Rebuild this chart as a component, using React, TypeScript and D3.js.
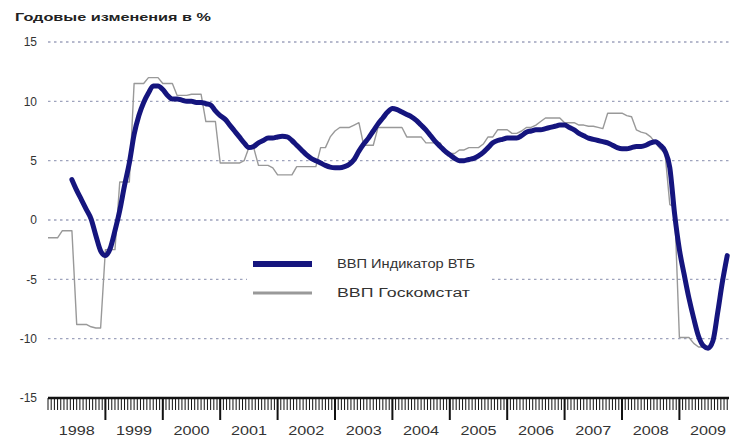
import React from "react";
import * as d3 from "d3";

const TITLE = "Годовые изменения в %";
const SERIES_VTB = "ВВП Индикатор ВТБ";
const SERIES_GKS = "ВВП Госкомстат";
const yTicks = [15, 10, 5, 0, -5, -10, -15];
const years = [1998, 1999, 2000, 2001, 2002, 2003, 2004, 2005, 2006, 2007, 2008, 2009];

// monthly values, month index 0 = Jan 1998
const vtbStart = 5;
const vtb = [
  3.4, 2.5, 1.7, 0.9, 0.1, -1.3, -2.6, -3.0, -2.4, -0.9, 0.8, 2.9, 4.8, 7.2, 8.8, 9.9,
  10.7, 11.3, 11.3, 11.0, 10.5, 10.2, 10.2, 10.1, 10.0, 10.0, 9.9, 9.9, 9.8, 9.7, 9.2, 8.8,
  8.5, 8.0, 7.5, 7.0, 6.5, 6.1, 6.2, 6.5, 6.7, 6.9, 6.9, 7.0, 7.05, 7.0, 6.7, 6.3,
  5.9, 5.5, 5.2, 5.0, 4.8, 4.6, 4.45, 4.4, 4.4, 4.5, 4.7, 5.1, 5.8, 6.4, 6.9, 7.5,
  8.1, 8.6, 9.1, 9.4, 9.3, 9.1, 8.9, 8.7, 8.4, 8.0, 7.6, 7.1, 6.6, 6.2, 5.8, 5.5,
  5.2, 5.0, 5.0, 5.1, 5.2, 5.4, 5.7, 6.1, 6.5, 6.7, 6.8, 6.9, 6.9, 6.9, 7.1, 7.4,
  7.5, 7.6, 7.6, 7.7, 7.8, 7.9, 8.0, 8.0, 7.8, 7.6, 7.3, 7.1, 6.9, 6.8, 6.7, 6.6,
  6.5, 6.3, 6.1, 6.0, 6.0, 6.1, 6.2, 6.2, 6.3, 6.5, 6.6, 6.3, 5.8, 4.4, 0.5, -2.5,
  -4.6, -6.6, -8.3, -9.8, -10.6, -10.8, -10.2, -7.8, -5.2, -3.0,
];
const gks = [
  -1.5, -1.5, -1.5, -0.9, -0.9, -0.9, -8.8, -8.8, -8.8, -9.0, -9.1, -9.1,
  -2.5, -2.5, -2.5, 3.2, 3.2, 3.2, 11.5, 11.5, 11.5, 12.0, 12.0, 12.0,
  11.5, 11.5, 11.5, 10.5, 10.5, 10.5, 10.6, 10.6, 10.6, 8.3, 8.3, 8.3,
  4.8, 4.8, 4.8, 4.8, 4.8, 5.0, 6.1, 6.1, 4.6, 4.6, 4.6, 4.4,
  3.8, 3.8, 3.8, 3.8, 4.5, 4.5, 4.5, 4.5, 4.5, 6.1, 6.1, 7.0,
  7.5, 7.8, 7.8, 7.8, 8.0, 8.2, 6.3, 6.3, 6.3, 7.8, 7.8, 7.8,
  7.8, 7.8, 7.8, 7.0, 7.0, 7.0, 7.0, 6.5, 6.5, 6.5, 6.5, 5.7,
  5.6, 5.6, 5.9, 5.9, 6.1, 6.1, 6.1, 6.4, 7.0, 7.0, 7.6, 7.6,
  7.6, 7.3, 7.3, 7.5, 7.8, 7.8, 8.0, 8.3, 8.6, 8.6, 8.6, 8.6,
  8.2, 8.2, 8.2, 8.0, 8.0, 7.9, 7.9, 7.8, 7.7, 9.0, 9.0, 9.0,
  9.0, 8.8, 8.7, 7.6, 7.4, 7.3, 7.0, 6.5, 6.0, 5.6, 1.3, 1.1,
  -9.9, -9.9, -9.9, -10.4, -10.7, -10.7, -10.7,
];

const W = 734;
const H = 439;

export default function App() {
  const x = d3.scaleLinear().domain([1998, 2010]).range([48, 736.8]);
  const y = d3.scaleLinear().domain([-15, 15]).range([398, 42]);
  const xm = (m: number) => x(1998 + m / 12);
  const axisEnd = 729;

  const vtbPts: [number, number][] = vtb.map((v, i) => [xm(vtbStart + i), y(v)]);
  const gksPts: [number, number][] = gks.map((v, i) => [xm(i), y(v)]);
  const smooth = d3.line().curve(d3.curveMonotoneX);
  const straight = d3.line();

  const minorPerYear = 18;
  const minor: number[] = [];
  for (let t = 1998; t < 2010; t += 1 / minorPerYear) {
    if (x(t) <= axisEnd) minor.push(x(t));
  }
  const majors = years.slice(1).map((yr) => x(yr));

  const font = "'Liberation Sans', Arial, sans-serif";

  return (
    <svg width={W} height={H} style={{ display: "block", position: "absolute", left: 0, top: 0, background: "#fff" }}>
      <rect width={W} height={H} fill="#fff" />
      <text x={15} y={21} fontFamily={font} fontWeight="bold" fontSize={11} fill="#222" textLength={196} lengthAdjust="spacingAndGlyphs">
        {TITLE}
      </text>
      {yTicks.filter((t) => t !== -15).map((t) => (
        <line key={"g" + t} x1={48} x2={axisEnd} y1={y(t)} y2={y(t)} stroke="#9ea3bd" strokeWidth={1.4} strokeDasharray="2.5,3.5" />
      ))}
      {yTicks.map((t) => (
        <text key={"yl" + t} x={37} y={y(t)} dy="0.35em" textAnchor="end" fontFamily={font} fontSize={12} fill="#333">
          {t}
        </text>
      ))}
      {/* legend background */}
      <rect x={247} y={250} width={245} height={56} fill="#fff" />
      <path d={straight(gksPts) || ""} fill="none" stroke="#999" strokeWidth={1.4} strokeLinejoin="round" />
      <path d={smooth(vtbPts) || ""} fill="none" stroke="#15157e" strokeWidth={5} strokeLinecap="round" strokeLinejoin="round" />
      {/* x axis */}
      {minor.map((mx, i) => (
        <line key={"mi" + i} x1={mx} x2={mx} y1={398} y2={410} stroke="#111" strokeWidth={1} />
      ))}
      {majors.map((mx, i) => (
        <line key={"ma" + i} x1={mx} x2={mx} y1={398} y2={420} stroke="#111" strokeWidth={2} />
      ))}
      <line x1={48} x2={axisEnd} y1={398} y2={398} stroke="#111" strokeWidth={2.5} />
      {years.map((yr) => (
        <text key={"xl" + yr} x={x(yr + 0.5)} y={435} textAnchor="middle" fontFamily={font} fontSize={13} fill="#333" textLength={36} lengthAdjust="spacingAndGlyphs">
          {yr}
        </text>
      ))}
      {/* legend */}
      <line x1={253} x2={312} y1={264} y2={264} stroke="#15157e" strokeWidth={6} />
      <line x1={253} x2={312} y1={293} y2={293} stroke="#999" strokeWidth={3} />
      <text x={337} y={268} fontFamily={font} fontSize={12} fill="#333" textLength={138} lengthAdjust="spacingAndGlyphs">
        {SERIES_VTB}
      </text>
      <text x={337} y={297} fontFamily={font} fontSize={12} fill="#333" textLength={133} lengthAdjust="spacingAndGlyphs">
        {SERIES_GKS}
      </text>
    </svg>
  );
}
